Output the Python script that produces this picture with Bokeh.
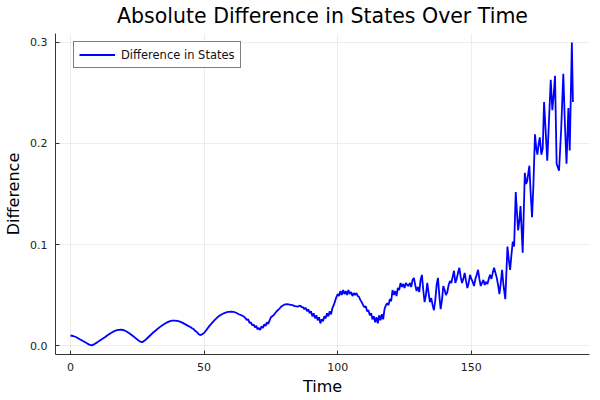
from bokeh.plotting import figure
from bokeh.models import Range1d, FixedTicker, Legend, LegendItem
from bokeh.embed import file_html
from bokeh.resources import INLINE

# ---- data ----
time = [
    0, 1, 2, 3, 4, 5, 6, 7, 8, 9, 10, 11, 12, 13, 14, 15, 16, 17, 18, 19,
    20, 21, 22, 23, 24, 25, 26, 27, 28, 29, 30, 31, 32, 33, 34, 35, 36, 37, 38, 39,
    40, 41, 42, 43, 44, 45, 45.5, 46, 46.5, 47, 47.5, 48, 48.5, 49, 50, 51, 52, 53, 54, 55,
    56, 57, 58, 59, 60, 61, 62, 63, 64, 65, 65.5, 66, 66.5, 67, 67.5, 68, 68.5, 69, 69.5,
    70, 70.5, 71, 71.5, 72, 72.5, 73, 73.5, 74, 74.5, 75, 76, 77, 78, 79, 80, 81, 82, 83,
    84, 85, 86, 86.5, 87, 87.5, 88, 88.5, 89, 89.5, 90, 90.5, 91, 91.5, 92, 92.5, 93, 93.5,
    94, 94.5, 95, 95.5, 96, 96.5, 97, 97.5, 98, 98.5, 99, 99.5, 100, 100.5, 101, 101.5,
    102, 102.5, 103, 103.5, 104, 104.5, 105, 105.5, 106, 106.5, 107, 107.5, 108, 108.5,
    109, 109.5, 110, 110.5, 111, 111.5, 112, 112.5, 113, 113.5, 114, 114.5, 115, 115.5,
    116, 116.5, 117, 117.5, 118, 118.5, 119, 119.5, 120, 120.5, 121, 121.5, 122, 122.5,
    123, 123.5, 124, 124.5, 125, 125.5, 126, 126.5, 127, 127.5, 128, 128.5, 129, 129.5,
    130, 130.5, 131, 131.5, 132, 132.5, 133, 133.5, 134, 134.5, 135, 135.5, 136, 136.5,
    137, 137.5, 138, 138.5, 139, 139.5, 140, 140.5, 141, 141.5, 142, 142.5, 143, 143.5,
    144, 144.5, 145, 145.5, 146, 146.5, 147, 147.5, 148, 148.5, 149, 149.5, 150, 150.5,
    151, 151.5, 152, 152.5, 153, 153.5, 154, 154.5, 155, 155.5, 156, 156.5, 157, 157.5,
    158, 158.5, 159, 159.5, 160, 160.5, 161, 161.5, 162, 162.7, 163.5, 164, 164.5, 165,
    165.5, 166, 166.6, 167.1, 167.5, 168, 168.4, 169.2, 170, 170.5, 170.9, 171.7, 172.2,
    172.7, 173.2, 173.8, 174.3, 174.7, 175.2, 175.6, 176.2, 176.7, 177.2, 177.8, 178.4,
    179.7, 180.3, 180.8, 181.3, 181.9, 182.4, 182.8, 183.6, 184.4, 185, 185.6, 186.3,
    186.8, 187.6, 188,
]
difference = [
    0.0100, 0.0095, 0.0085, 0.0070, 0.0055, 0.0040, 0.0025, 0.0010, 0.0002, 0.0015,
    0.0032, 0.0050, 0.0068, 0.0085, 0.0105, 0.0122, 0.0138, 0.0150, 0.0156, 0.0157,
    0.0152, 0.0140, 0.0123, 0.0103, 0.0082, 0.0060, 0.0040, 0.0035, 0.0055, 0.0080,
    0.0105, 0.0130, 0.0152, 0.0175, 0.0195, 0.0212, 0.0228, 0.0240, 0.0247, 0.0248,
    0.0244, 0.0237, 0.0225, 0.0210, 0.0195, 0.0182, 0.0172, 0.0165, 0.0150, 0.0140,
    0.0128, 0.0112, 0.0104, 0.0108, 0.0125, 0.0160, 0.0195, 0.0225, 0.0255, 0.0280,
    0.0300, 0.0315, 0.0327, 0.0333, 0.0335, 0.0333, 0.0325, 0.0310, 0.0300, 0.0285,
    0.0270, 0.0255, 0.0260, 0.0225, 0.0230, 0.0200, 0.0210, 0.0180, 0.0195,
    0.0160, 0.0175, 0.0155, 0.0190, 0.0175, 0.0210, 0.0195, 0.0230, 0.0215, 0.0250,
    0.0280, 0.0300, 0.0335, 0.0360, 0.0390, 0.0405, 0.0410, 0.0405, 0.0400,
    0.0390, 0.0385, 0.0395, 0.0380, 0.0380, 0.0360, 0.0375, 0.0340, 0.0360, 0.0320,
    0.0340, 0.0290, 0.0320, 0.0270, 0.0300, 0.0250, 0.0280, 0.0220,
    0.0260, 0.0240, 0.0290, 0.0270, 0.0320, 0.0290, 0.0340, 0.0310, 0.0370, 0.0400,
    0.0440, 0.0480, 0.0510, 0.0490, 0.0540, 0.0500,
    0.0550, 0.0510, 0.0540, 0.0500, 0.0550, 0.0510, 0.0530, 0.0490, 0.0520, 0.0500,
    0.0520, 0.0490, 0.0480, 0.0450,
    0.0430, 0.0400, 0.0380, 0.0390, 0.0340, 0.0350, 0.0300, 0.0320, 0.0260, 0.0290,
    0.0230, 0.0280, 0.0220, 0.0300,
    0.0250, 0.0310, 0.0260, 0.0360, 0.0400, 0.0420, 0.0400, 0.0460, 0.0440, 0.0550,
    0.0500, 0.0540, 0.0490, 0.0570,
    0.0550, 0.0620, 0.0580, 0.0610, 0.0570, 0.0620, 0.0600, 0.0590, 0.0620, 0.0580,
    0.0650, 0.0670, 0.0600, 0.0540,
    0.0580, 0.0530, 0.0650, 0.0700, 0.0550, 0.0430, 0.0500, 0.0620, 0.0520, 0.0430,
    0.0470, 0.0400, 0.0350, 0.0450,
    0.0600, 0.0670, 0.0500, 0.0360, 0.0450, 0.0590, 0.0550, 0.0500, 0.0530, 0.0600,
    0.0640, 0.0620, 0.0680, 0.0740,
    0.0620, 0.0660, 0.0720, 0.0770, 0.0680, 0.0620, 0.0660, 0.0720, 0.0640, 0.0570,
    0.0620, 0.0700, 0.0660, 0.0630,
    0.0590, 0.0660, 0.0700, 0.0750, 0.0660, 0.0590, 0.0620, 0.0650, 0.0600, 0.0630,
    0.0610, 0.0660, 0.0700, 0.0660,
    0.0720, 0.0770, 0.0720, 0.0670, 0.0600, 0.0510, 0.0620, 0.0750, 0.0600, 0.0460,
    0.0980, 0.0850, 0.0750, 0.0900,
    0.1030, 0.0980, 0.1520, 0.1300, 0.1140, 0.1250, 0.1380, 0.0920, 0.1710, 0.1600,
    0.1630, 0.1780, 0.1500,
    0.1270, 0.1580, 0.2090, 0.1950, 0.1890, 0.2000, 0.2060, 0.1890, 0.1950, 0.2410,
    0.2120, 0.1830,
    0.2630, 0.2330, 0.2480, 0.2670, 0.1800, 0.1760, 0.1730, 0.2140, 0.2690, 0.2190,
    0.1800, 0.2350,
    0.1930, 0.3000, 0.2410,
]
x_ticks = [0, 50, 100, 150]
y_ticks = [0.0, 0.1, 0.2, 0.3]
y_tick_labels = ["0.0", "0.1", "0.2", "0.3"]
series_label = "Difference in States"
title_text = "Absolute Difference in States Over Time"
x_label = "Time"
y_label = "Difference"

FONT = "DejaVu Sans"

p = figure(width=596, height=398, output_backend="svg", toolbar_location=None,
           x_range=Range1d(-5.6, 194.2), y_range=Range1d(-0.0088, 0.3088),
           min_border_left=55, min_border_right=7, min_border_top=31,
           min_border_bottom=43)
p.outline_line_color = None

p.title.text = title_text
p.title.align = "center"
p.title.vertical_align = "top"
p.title.text_font = FONT
p.title.text_font_size = "20.5px"
p.title.text_font_style = "normal"
p.title.text_color = "#000000"
p.title.standoff = 7

r = p.line(time, difference, line_color="#0000ff", line_width=1.8)

for ax in (p.xaxis[0], p.yaxis[0]):
    ax.major_tick_in = 4
    ax.major_tick_out = 0
    ax.minor_tick_in = 0
    ax.minor_tick_out = 0
    ax.axis_line_color = "#333333"
    ax.major_tick_line_color = "#333333"
    ax.major_label_text_font = FONT
    ax.major_label_text_font_size = "11px"
    ax.major_label_text_color = "#222222"
    ax.axis_label_text_font = FONT
    ax.axis_label_text_font_size = "16px"
    ax.axis_label_text_font_style = "normal"
    ax.axis_label_text_color = "#000000"

p.xaxis[0].ticker = FixedTicker(ticks=x_ticks)
p.yaxis[0].ticker = FixedTicker(ticks=y_ticks)
p.yaxis[0].major_label_overrides = {t: l for t, l in zip(y_ticks, y_tick_labels)}
p.xaxis[0].axis_label = x_label
p.yaxis[0].axis_label = y_label
p.xaxis[0].major_label_standoff = 8
p.yaxis[0].major_label_standoff = 8
p.xaxis[0].axis_label_standoff = 3
p.yaxis[0].axis_label_standoff = 4

p.grid.grid_line_color = "#000000"
p.grid.grid_line_alpha = 0.07
p.grid.grid_line_width = 1
p.xgrid.ticker = FixedTicker(ticks=x_ticks)
p.ygrid.ticker = FixedTicker(ticks=y_ticks)

legend = Legend(items=[LegendItem(label=series_label, renderers=[r])],
                location=(18, 286), margin=0, padding=5, spacing=0,
                glyph_width=36, glyph_height=15, label_height=15,
                label_standoff=6, label_text_font=FONT,
                label_text_font_size="11.5px", label_text_color="#111111",
                border_line_color="#000000", border_line_width=1,
                background_fill_color="#ffffff", background_fill_alpha=1.0)
p.add_layout(legend)

open("out.html", "w").write(file_html(p, INLINE))
